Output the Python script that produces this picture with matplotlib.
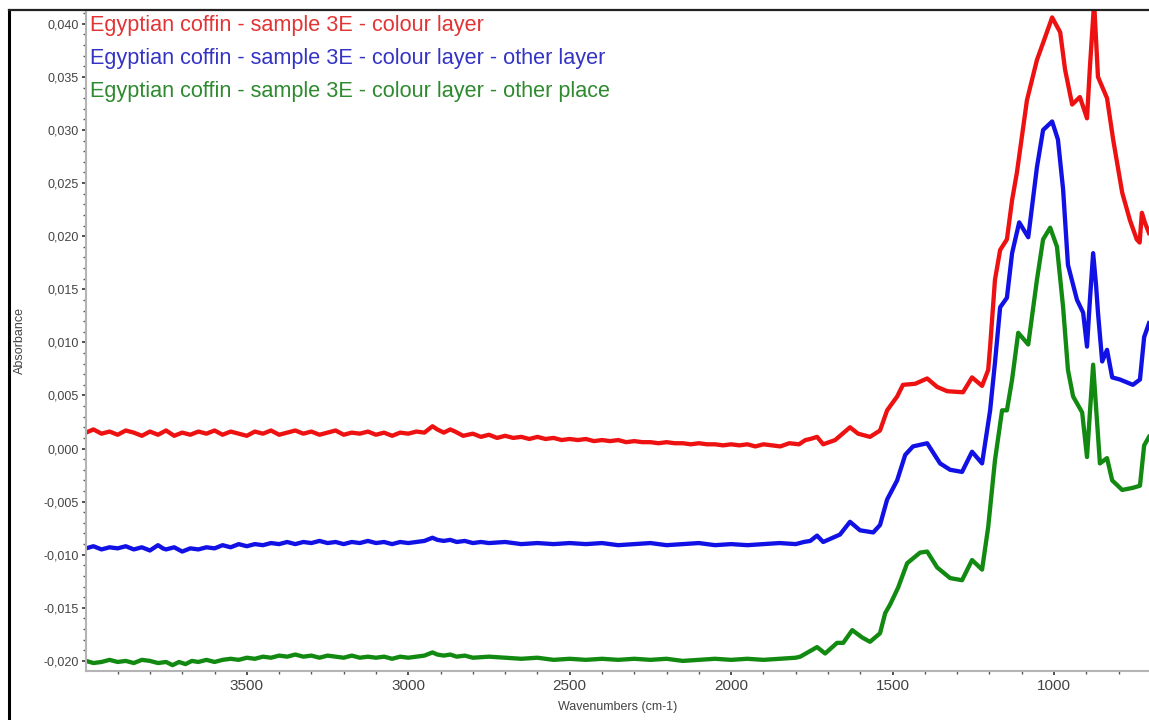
import matplotlib
matplotlib.use("Agg")
import matplotlib.pyplot as plt
from matplotlib.ticker import MultipleLocator, FuncFormatter
from matplotlib.lines import Line2D

# ---- spectra: wavenumber (cm-1) and absorbance ----
red_wn = [3998, 3975, 3950, 3925, 3900, 3875, 3850, 3825, 3800, 3775, 3750, 3725,
          3700, 3675, 3650, 3625, 3600, 3575, 3550, 3525, 3500, 3475, 3450, 3425,
          3400, 3375, 3350, 3325, 3300, 3275, 3250, 3225, 3200, 3175, 3150, 3125,
          3100, 3075, 3050, 3025, 3000, 2975, 2950, 2925, 2910, 2890, 2870, 2855,
          2830, 2800, 2775, 2750, 2725, 2700, 2675, 2650, 2625, 2600, 2575, 2550,
          2525, 2500, 2475, 2450, 2425, 2400, 2375, 2350, 2325, 2300, 2275, 2250,
          2225, 2200, 2175, 2150, 2125, 2100, 2075, 2050, 2025, 2000, 1975, 1950,
          1925, 1900, 1875, 1848, 1820, 1790, 1770, 1755, 1734, 1715, 1678, 1632,
          1607, 1570, 1539, 1517, 1486, 1468, 1430, 1393, 1362, 1331, 1282, 1254,
          1223, 1204, 1198, 1183, 1167, 1146, 1130, 1115, 1084, 1053, 1034, 1006,
          981, 966, 944, 920, 898, 889, 876, 864, 836, 817, 789, 765, 744, 735, 728,
          719, 706]
red_abs = [0.0015, 0.0018, 0.0014, 0.0016, 0.0013, 0.0017, 0.0015, 0.0012, 0.0016,
           0.0013, 0.0017, 0.0012, 0.0015, 0.0013, 0.0016, 0.0014, 0.0017, 0.0013,
           0.0016, 0.0014, 0.0012, 0.0016, 0.0014, 0.0017, 0.0013, 0.0015, 0.0017,
           0.0014, 0.0016, 0.0013, 0.0015, 0.0017, 0.0013, 0.0015, 0.0014, 0.0016,
           0.0013, 0.0015, 0.0012, 0.0015, 0.0014, 0.0016, 0.0015, 0.0021, 0.0018,
           0.0015, 0.0018, 0.0016, 0.0012, 0.0014, 0.0011, 0.0013, 0.0010, 0.0012,
           0.0010, 0.0011, 0.0009, 0.0011, 0.0009, 0.0010, 0.0008, 0.0009, 0.0008,
           0.0009, 0.0007, 0.0008, 0.0007, 0.0008, 0.0006, 0.0007, 0.0006, 0.0006,
           0.0005, 0.0006, 0.0005, 0.0005, 0.0004, 0.0005, 0.0004, 0.0004, 0.0003,
           0.0004, 0.0003, 0.0004, 0.0002, 0.0004, 0.0003, 0.0002, 0.0005, 0.0004,
           0.0008, 0.0009, 0.0011, 0.0004, 0.0008, 0.0020, 0.0014, 0.0011, 0.0017,
           0.0036, 0.0049, 0.0060, 0.0061, 0.0066, 0.0058, 0.0054, 0.0053, 0.0067,
           0.0059, 0.0074, 0.0096, 0.0159, 0.0187, 0.0197, 0.0234, 0.0260, 0.0328,
           0.0366, 0.0382, 0.0406, 0.0392, 0.0357, 0.0324, 0.0331, 0.0311, 0.0359,
           0.0420, 0.0350, 0.0330, 0.0291, 0.0241, 0.0215, 0.0197, 0.0194, 0.0222,
           0.0213, 0.0203]

blue_wn = [3998, 3975, 3950, 3925, 3900, 3875, 3850, 3825, 3800, 3775, 3760, 3750,
           3725, 3700, 3675, 3650, 3625, 3600, 3575, 3550, 3525, 3500, 3475, 3450,
           3425, 3400, 3375, 3350, 3325, 3300, 3275, 3250, 3225, 3200, 3175, 3150,
           3125, 3100, 3075, 3050, 3025, 3000, 2975, 2950, 2925, 2910, 2890, 2870,
           2850, 2825, 2800, 2775, 2750, 2700, 2650, 2600, 2550, 2500, 2450, 2400,
           2350, 2300, 2250, 2200, 2150, 2100, 2050, 2000, 1950, 1900, 1850, 1800,
           1775, 1755, 1734, 1715, 1663, 1632, 1601, 1560, 1539, 1517, 1486, 1461,
           1437, 1393, 1353, 1322, 1285, 1254, 1223, 1198, 1183, 1167, 1146, 1130,
           1108, 1080, 1053, 1034, 1006, 988, 972, 957, 929, 910, 898, 889, 879,
           870, 864, 851, 836, 820, 796, 756, 734, 721, 706]
blue_abs = [-0.0094, -0.0092, -0.0095, -0.0093, -0.0094, -0.0092, -0.0095, -0.0093,
            -0.0096, -0.0091, -0.0094, -0.0095, -0.0093, -0.0097, -0.0094, -0.0095,
            -0.0093, -0.0094, -0.0091, -0.0093, -0.0090, -0.0092, -0.0090, -0.0091,
            -0.0089, -0.0090, -0.0088, -0.0090, -0.0088, -0.0089, -0.0087, -0.0089,
            -0.0088, -0.0090, -0.0088, -0.0089, -0.0087, -0.0089, -0.0088, -0.0090,
            -0.0088, -0.0089, -0.0088, -0.0087, -0.0084, -0.0086, -0.0087, -0.0086,
            -0.0088, -0.0087, -0.0089, -0.0088, -0.0089, -0.0088, -0.0090, -0.0089,
            -0.0090, -0.0089, -0.0090, -0.0089, -0.0091, -0.0090, -0.0089, -0.0091,
            -0.0090, -0.0089, -0.0091, -0.0090, -0.0091, -0.0090, -0.0089, -0.0090,
            -0.0088, -0.0087, -0.0082, -0.0088, -0.0081, -0.0069, -0.0077, -0.0079,
            -0.0072, -0.0048, -0.0030, -0.0006, 0.0002, 0.0005, -0.0014, -0.0020,
            -0.0022, -0.0003, -0.0014, 0.0036, 0.0081, 0.0133, 0.0142, 0.0184, 0.0213,
            0.0199, 0.0265, 0.0300, 0.0308, 0.0291, 0.0244, 0.0173, 0.0140, 0.0128,
            0.0096, 0.0140, 0.0184, 0.0154, 0.0128, 0.0082, 0.0093, 0.0067, 0.0065,
            0.0060, 0.0065, 0.0105, 0.0118]

green_wn = [3998, 3975, 3950, 3925, 3900, 3875, 3850, 3825, 3800, 3775, 3750, 3730,
            3710, 3690, 3670, 3650, 3625, 3600, 3575, 3550, 3525, 3500, 3475, 3450,
            3425, 3400, 3375, 3350, 3325, 3300, 3275, 3250, 3225, 3200, 3175, 3150,
            3125, 3100, 3075, 3050, 3025, 3000, 2975, 2950, 2925, 2910, 2890, 2870,
            2850, 2825, 2800, 2750, 2700, 2650, 2600, 2550, 2500, 2450, 2400, 2350,
            2300, 2250, 2200, 2150, 2100, 2050, 2000, 1950, 1900, 1850, 1800, 1786,
            1734, 1709, 1672, 1653, 1625, 1594, 1570, 1539, 1523, 1508, 1483, 1455,
            1415, 1393, 1362, 1322, 1285, 1254, 1223, 1204, 1183, 1161, 1146, 1130,
            1111, 1080, 1053, 1034, 1012, 991, 972, 957, 941, 913, 898, 889, 879,
            870, 858, 836, 820, 789, 756, 734, 721, 706]
green_abs = [-0.0200, -0.0202, -0.0201, -0.0199, -0.0201, -0.0200, -0.0202, -0.0199,
             -0.0200, -0.0202, -0.0201, -0.0204, -0.0201, -0.0203, -0.0200, -0.0201,
             -0.0199, -0.0201, -0.0199, -0.0198, -0.0199, -0.0197, -0.0198, -0.0196,
             -0.0197, -0.0195, -0.0196, -0.0194, -0.0196, -0.0195, -0.0197, -0.0195,
             -0.0196, -0.0197, -0.0195, -0.0197, -0.0196, -0.0197, -0.0196, -0.0198,
             -0.0196, -0.0197, -0.0196, -0.0195, -0.0192, -0.0194, -0.0195, -0.0194,
             -0.0196, -0.0195, -0.0197, -0.0196, -0.0197, -0.0198, -0.0197, -0.0199,
             -0.0198, -0.0199, -0.0198, -0.0199, -0.0198, -0.0199, -0.0198, -0.0200,
             -0.0199, -0.0198, -0.0199, -0.0198, -0.0199, -0.0198, -0.0197, -0.0196,
             -0.0187, -0.0193, -0.0183, -0.0183, -0.0171, -0.0178, -0.0182, -0.0174,
             -0.0155, -0.0147, -0.0131, -0.0108, -0.0098, -0.0097, -0.0112, -0.0122,
             -0.0124, -0.0105, -0.0114, -0.0074, -0.0011, 0.0036, 0.0036, 0.0065,
             0.0109, 0.0098, 0.0159, 0.0197, 0.0208, 0.0190, 0.0133, 0.0074, 0.0049,
             0.0034, -0.0008, 0.0034, 0.0079, 0.0039, -0.0014, -0.0009, -0.0030,
             -0.0039, -0.0037, -0.0035, 0.0003, 0.0011]

series_labels = [
    "Egyptian coffin - sample 3E - colour layer",
    "Egyptian coffin - sample 3E - colour layer - other layer",
    "Egyptian coffin - sample 3E - colour layer - other place",
]
line_colors = ["#ee1111", "#1111e6", "#128a12"]
text_colors = ["#e23434", "#3434c4", "#2e8a2e"]

plt.rcParams["font.family"] = ["Liberation Sans", "DejaVu Sans"]

fig = plt.figure(figsize=(11.49, 7.20), dpi=100)
ax = fig.add_axes([86 / 1149, 1 - 671 / 720, 1 - 86 / 1149, (671 - 10) / 720])

for wn, ab, c in zip([red_wn, blue_wn, green_wn],
                     [red_abs, blue_abs, green_abs], line_colors):
    ax.plot(wn, ab, color=c, lw=3.1, solid_joinstyle="round", clip_on=True)

ax.set_xlim(3998, 706)
ax.set_ylim(-0.02095, 0.0413)

ax.xaxis.set_major_locator(MultipleLocator(500))
ax.xaxis.set_minor_locator(MultipleLocator(100))
ax.yaxis.set_major_locator(MultipleLocator(0.005))
ax.yaxis.set_minor_locator(MultipleLocator(0.001))
ax.yaxis.set_major_formatter(FuncFormatter(
    lambda v, p: f"{v:.3f}".replace(".", ",").replace("-0,000", "0,000")))
ax.xaxis.set_major_formatter(FuncFormatter(lambda v, p: f"{int(round(v))}"))

ax.tick_params(axis="x", which="major", direction="out", length=3, width=1.2,
               color="#333333", labelsize=11, labelcolor="#444444", pad=2.5)
ax.tick_params(axis="x", which="minor", direction="out", length=2, width=1,
               color="#555555")
ax.tick_params(axis="y", which="major", direction="out", length=3, width=1.2,
               color="#333333", labelsize=9, labelcolor="#444444", pad=2)
ax.tick_params(axis="y", which="minor", direction="out", length=2, width=1,
               color="#555555")

for side in ("top", "right"):
    ax.spines[side].set_visible(False)
for side in ("left", "bottom"):
    ax.spines[side].set_color("#b4b4b4")
    ax.spines[side].set_linewidth(1.5)

ax.set_xlabel("Wavenumbers (cm-1)", fontsize=9, color="#444444", labelpad=6)
fig.text(20 / 1149, 1 - 340 / 720, "Absorbance", rotation=90, fontsize=9,
         color="#444444", ha="center", va="center")

for i, (lbl, tc) in enumerate(zip(series_labels, text_colors)):
    fig.text(90 / 1149, 1 - (26 + 32.5 * i) / 720, lbl, color=tc,
             fontsize=15.6, ha="left", va="center")

# outer frame
fig.add_artist(Line2D([9 / 1149, 9 / 1149], [0, 1 - 10 / 720], color="black",
                      lw=2.2, transform=fig.transFigure))
fig.add_artist(Line2D([9 / 1149, 1], [1 - 10 / 720, 1 - 10 / 720], color="#222222",
                      lw=1.6, transform=fig.transFigure))

fig.savefig("out.png", dpi=100, facecolor="white")
